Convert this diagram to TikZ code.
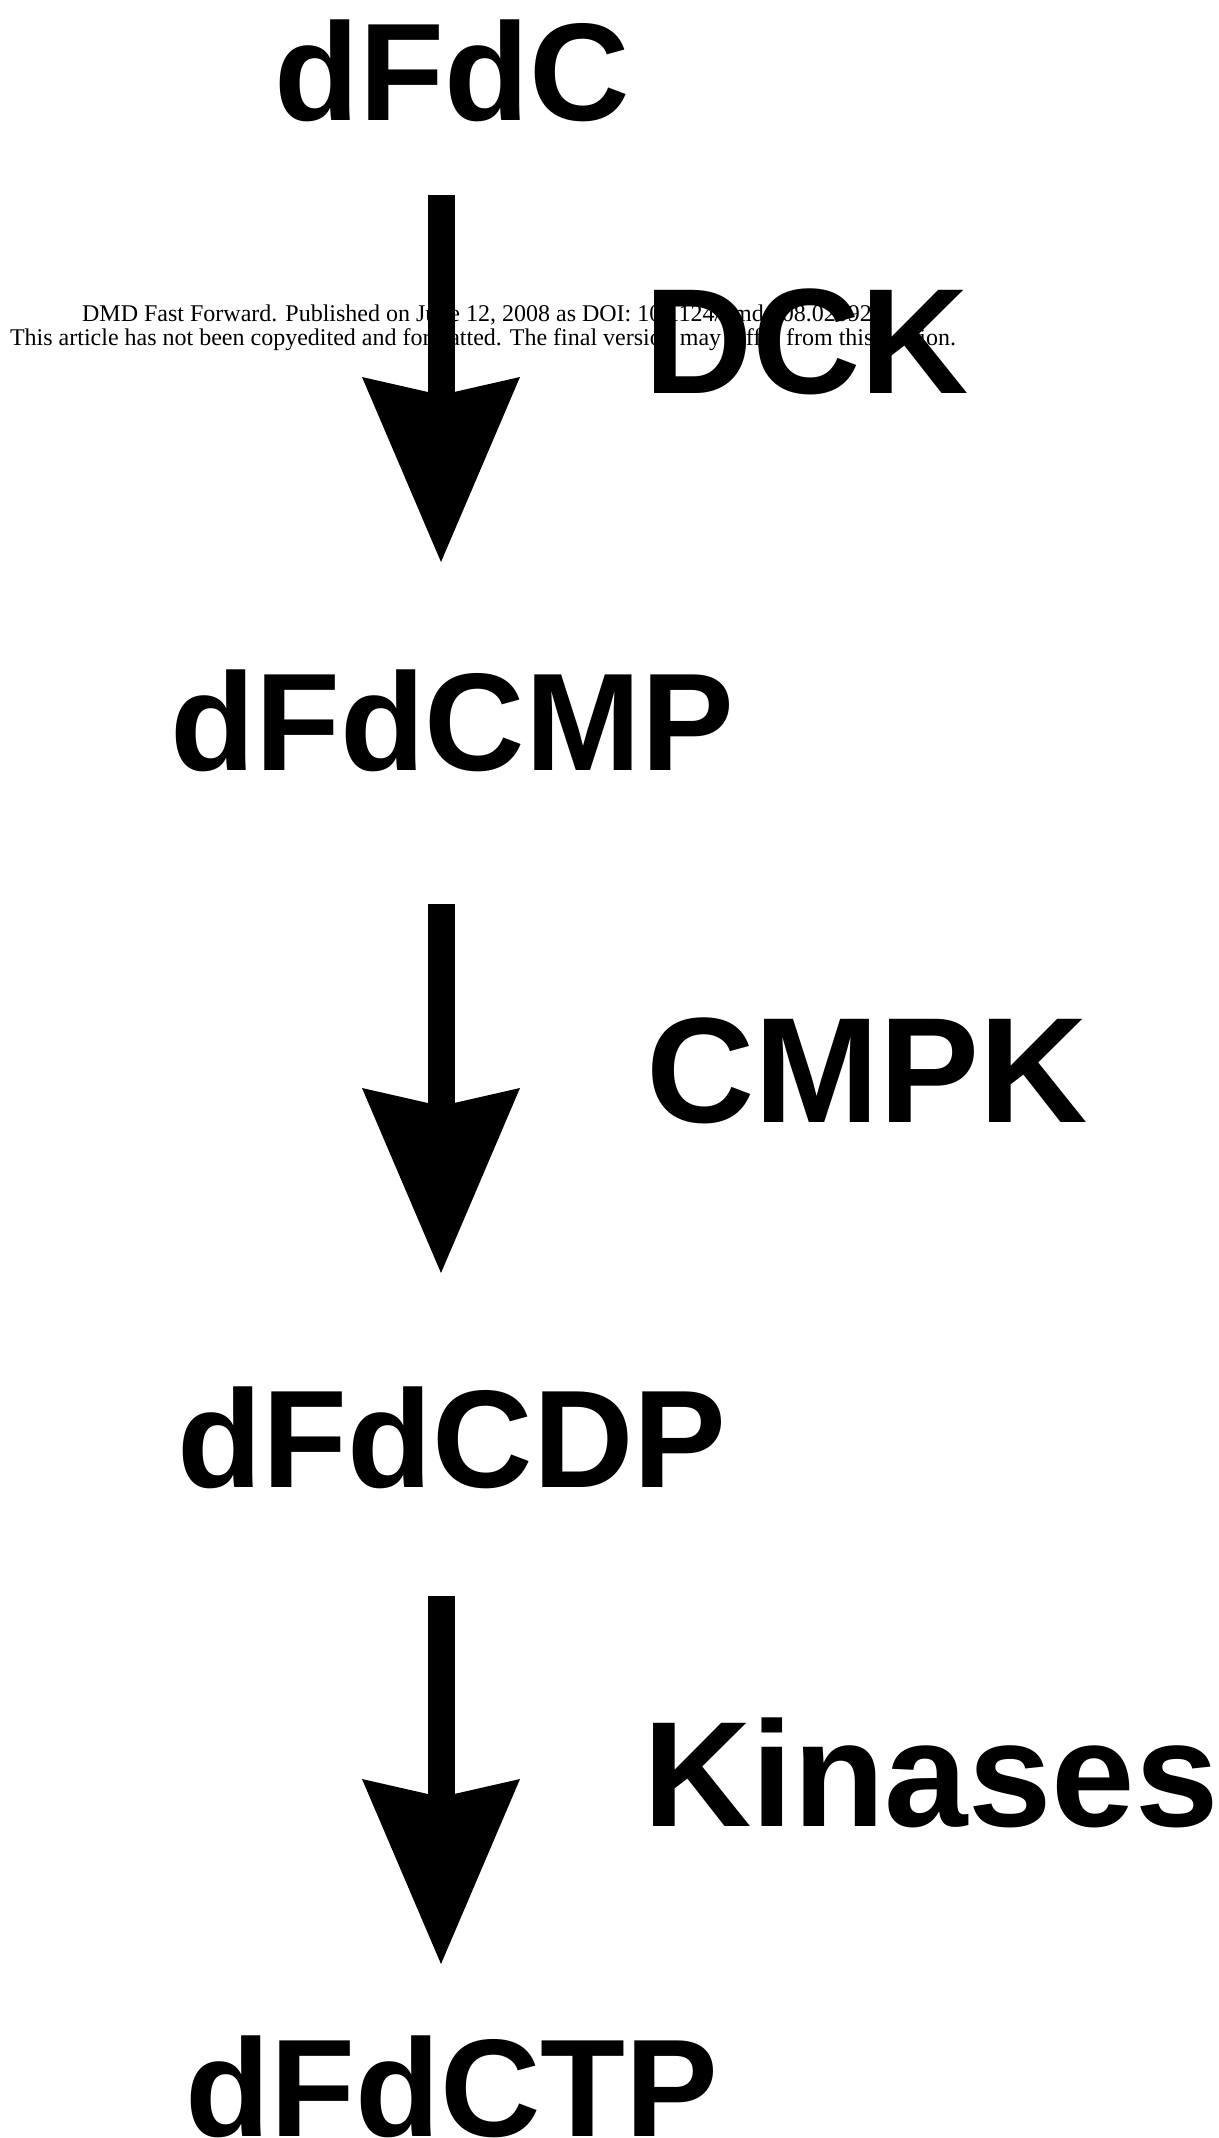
\documentclass[tikz,border=0pt]{standalone}
\usepackage{fontspec}
\setmainfont{Liberation Serif}
\newfontfamily\labelfont{Liberation Sans}
\usetikzlibrary{arrows.meta, positioning}

\begin{document}
\begin{tikzpicture}[
  x=1pt, y=-1pt,
  chem/.style={font=\labelfont\bfseries\fontsize{139}{139}\selectfont,
               inner sep=0pt, anchor=base},
  enz/.style={font=\labelfont\bfseries\fontsize{150}{150}\selectfont,
              inner sep=0pt, anchor=base west},
  note/.style={font=\fontsize{24}{24}\selectfont, align=center,
               inner sep=0pt, anchor=base},
  flow/.style={line width=27pt,
               -{Stealth[length=185pt, width=158pt, inset=18pt, line width=0pt]}}
]
\useasboundingbox (0,0) rectangle (1218,2138);

% metabolites
\node[chem] (dfdc)   at (452,121)  {dFdC};
\node[chem] (dfdcmp) at (452,770)  {dFdCMP};
\node[chem] (dfdcdp) at (452,1487) {dFdCDP};
\node[chem] (dfdctp) at (452,2136) {dFdCTP};

% journal stamp
\node[note] (stamp) at (483,345) {DMD Fast Forward. Published on June 12, 2008 as DOI: 10.1124/dmd.108.020925\\
  This article has not been copyedited and formatted. The final version may differ from this version.};

% enzymes
\node[enz] (dck)     at (644,393)  {DCK};
\node[enz] (cmpk)    at (646,1122) {CMPK};
\node[enz] (kinases) at (643,1826) {Kinases};

% phosphorylation steps
\draw[flow] ([xshift=-11pt, yshift=-74pt]dfdc.base)
  -- ([xshift=-11pt, yshift=208pt]dfdcmp.base);
\draw[flow] ([xshift=-11pt, yshift=-134pt]dfdcmp.base)
  -- ([xshift=-11pt, yshift=214pt]dfdcdp.base);
\draw[flow] ([xshift=-11pt, yshift=-109pt]dfdcdp.base)
  -- ([xshift=-11pt, yshift=172pt]dfdctp.base);
\end{tikzpicture}
\end{document}
